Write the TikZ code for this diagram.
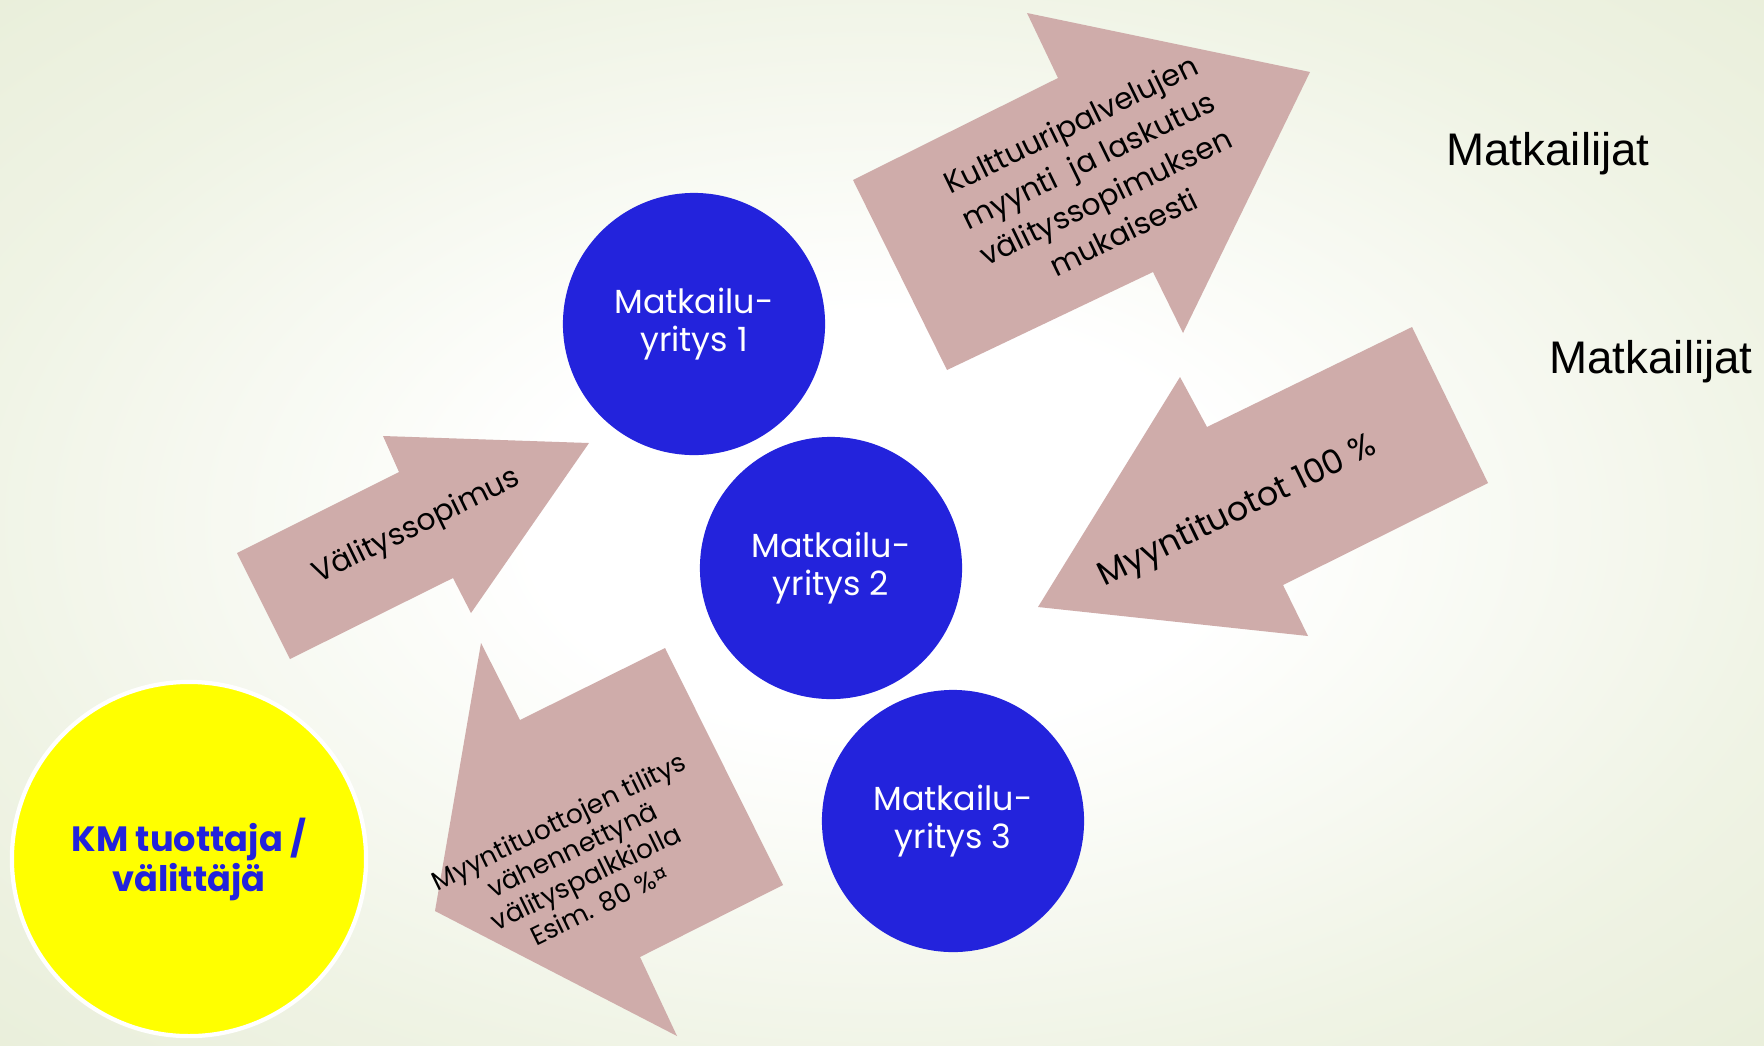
\documentclass[tikz,border=0pt]{standalone}
\usepackage{fontspec}
\setmainfont{Poppins}
\newfontfamily\arialfont{Liberation Sans}
\usetikzlibrary{positioning}
\definecolor{bgreen}{RGB}{222,230,199}
\definecolor{bmid}{RGB}{228,235,210}
\definecolor{bpale}{RGB}{239,243,228}
\definecolor{rosefill}{RGB}{207,172,170}
\definecolor{yritysblue}{RGB}{35,35,220}
\definecolor{keltainen}{RGB}{255,255,0}
\pgfdeclareradialshading{tausta}{\pgfpoint{0bp}{0bp}}{color(0bp)=(white); color(10bp)=(white); color(27bp)=(bpale); color(44bp)=(bmid); color(70bp)=(bgreen); color(100bp)=(bgreen)}

\begin{document}
\begin{tikzpicture}[x=0.01cm,y=-0.01cm,
  nuoli/.style={fill=rosefill,draw=none},
  yritys/.style={circle,fill=yritysblue,minimum size=2.62cm,inner sep=0pt,text=white,align=center,font=\fontsize{9.5}{11}\selectfont},
  nuoliteksti/.style={rotate=26,align=center,text=black,inner sep=0pt},
  matkailija/.style={font=\arialfont\fontsize{13}{15}\selectfont}]
\useasboundingbox (0,0) rectangle (1764,1045);
\shade[shading=tausta] (0,0) rectangle (1764,1045);
% arrows
\fill[nuoli] (853,180)--(1058,78)--(1027,13)--(1310,72)--(1183,333)--(1153,272)--(947,370)--cycle;
\fill[nuoli] (1412,327)--(1488,483)--(1283,585)--(1308,636)--(1038,607)--(1180,377)--(1207,427)--cycle;
\fill[nuoli] (237,553)--(399,472)--(383,436)--(589,443)--(471,613)--(453,578)--(290,659)--cycle;
\fill[nuoli] (481,643)--(520,720)--(665,648)--(783,885)--(640,957)--(677,1036)--(435,911)--cycle;
\node[nuoliteksti,font=\fontsize{8.5}{11.4}\selectfont] (myynti) at (1097,178) {Kulttuuripalvelujen\\myynti\ \ ja laskutus\\välityssopimuksen\\mukaisesti};
\node[nuoliteksti,font=\fontsize{9.5}{11}\selectfont] (tuotot) at (1238,512) {Myyntituotot 100 \%};
\node[nuoliteksti,font=\fontsize{8.5}{11}\selectfont] (sopimus) at (417,527) {Välityssopimus};
\node[nuoliteksti,font=\fontsize{7.5}{8.8}\selectfont] (tilitys) at (579,863) {Myyntituottojen tilitys\\vähennettynä\\välityspalkkiolla\\Esim. 80 \%¤};
% circles
\node[yritys] (yritys1) at (694,324) {Matkailu-\\yritys 1};
\node[yritys] (yritys2) at (831,568) {Matkailu-\\yritys 2};
\node[yritys] (yritys3) at (953,821) {Matkailu-\\yritys 3};
\node[circle,fill=keltainen,draw=white,line width=1.2pt,minimum size=3.54cm,inner sep=0pt,align=center,text=yritysblue,font=\bfseries\fontsize{10}{11.4}\selectfont] (tuottaja) at (189,859) {KM tuottaja /\\välittäjä};
\node[matkailija] (matk1) at (1548,154) {Matkailijat};
\node[matkailija] (matk2) at (1651,362) {Matkailijat};
\end{tikzpicture}
\end{document}
